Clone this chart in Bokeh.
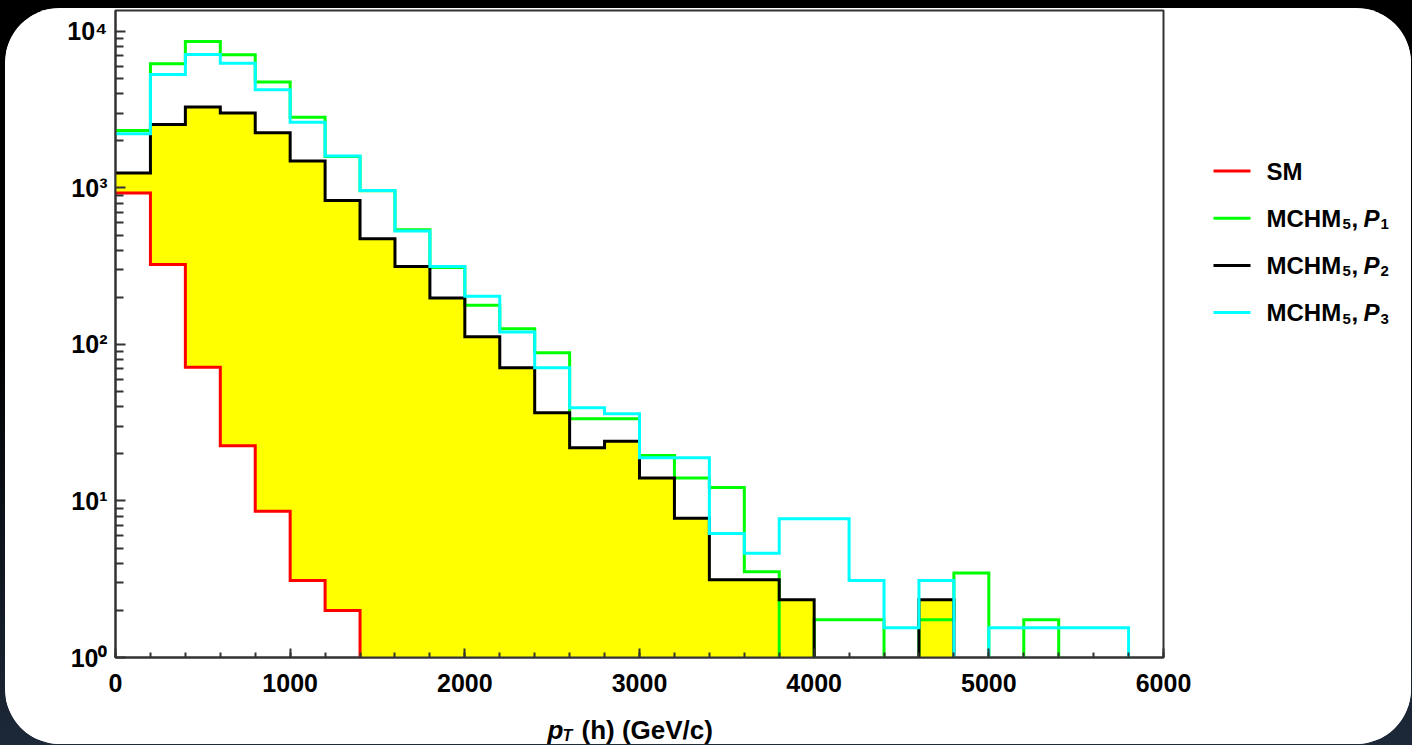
from bokeh.plotting import figure
from bokeh.layouts import row, column
from bokeh.models import Range1d, FixedTicker, GlobalInlineStyleSheet
from bokeh.core.properties import value
from bokeh.embed import file_html
from bokeh.resources import INLINE

# ---------------- data ----------------
bin_width = 200
bin_left = [0, 200, 400, 600, 800, 1000, 1200, 1400, 1600, 1800,
            2000, 2200, 2400, 2600, 2800, 3000, 3200, 3400, 3600, 3800,
            4000, 4200, 4400, 4600, 4800, 5000, 5200, 5400, 5600]

sm = [927, 324, 71.6, 22.5, 8.6, 3.1, 2.0, 0, 0, 0,
      0, 0, 0, 0, 0, 0, 0, 0, 0, 0,
      0, 0, 0, 0, 0, 0, 0, 0, 0]
mchm_p1 = [2330, 6210, 8630, 7100, 4745, 2833, 1590, 960, 540, 310,
           178, 126, 88.5, 33.5, 33.5, 19.5, 14.0, 12.2, 3.53, 0,
           1.74, 1.74, 0, 1.74, 3.46, 0, 1.74, 0, 0]
mchm_p2 = [1244, 2546, 3283, 3006, 2253, 1484, 832, 473, 315, 198,
           112, 71, 36.6, 21.9, 24.1, 14.0, 7.76, 3.14, 3.14, 2.34,
           0, 0, 0, 2.34, 0, 0, 0, 0, 0]
mchm_p3 = [2220, 5310, 7130, 6270, 4240, 2632, 1597, 964, 530, 315,
           203, 120, 71, 39.4, 36.1, 18.9, 18.9, 6.2, 4.64, 7.7,
           7.7, 3.1, 1.55, 3.1, 0, 1.55, 1.55, 1.55, 1.55]

series_colors = ["#ff0000", "#00ff00", "#000000", "#00ffff"]
legend_main = ["SM", "MCHM", "MCHM", "MCHM"]
legend_sub1 = ["", "5", "5", "5"]
legend_param = ["", "P", "P", "P"]
legend_sub2 = ["", "1", "2", "3"]

x_ticks = [0, 1000, 2000, 3000, 4000, 5000, 6000]
x_tick_labels = ["0", "1000", "2000", "3000", "4000", "5000", "6000"]
y_ticks = [1, 10, 100, 1000, 10000]
y_tick_labels = ["10\u2070", "10\u00b9", "10\u00b2", "10\u00b3", "10\u2074"]

FLOOR = 0.3  # below the axis minimum: empty bins fall off the frame
FONT = "Liberation Sans"
EDGE = "#333333"

css = """
html {
  min-height: 100%;
  background: linear-gradient(180deg, #000 0%, #000 45%, #1d2839 100%);
}
"""

TOTAL_W, TOTAL_H = 1406, 736
MAIN_W, MAIN_H = 1200, 700
B_LEFT, B_RIGHT, B_TOP, B_BOTTOM = 110, 42, 2, 51
FRAME_H = MAIN_H - B_TOP - B_BOTTOM
LAB_H = TOTAL_H - MAIN_H
LEG_W = TOTAL_W - MAIN_W

# ---------------- main plot ----------------
p = figure(width=MAIN_W, height=MAIN_H, title=None,
           x_range=Range1d(0, 6000), y_range=Range1d(1, 13600),
           y_axis_type="log", output_backend="svg", toolbar_location=None,
           min_border_left=B_LEFT, min_border_right=B_RIGHT,
           min_border_top=B_TOP, min_border_bottom=B_BOTTOM)
p.background_fill_color = "white"
p.border_fill_color = "white"
p.outline_line_color = EDGE
p.outline_line_width = 2
p.xgrid.visible = False
p.ygrid.visible = False

# yellow band between SM and P2, one polygon
tops = [max(v, FLOOR) for v in mchm_p2]
bots = [min(max(s, FLOOR), t) for s, t in zip(sm, tops)]
band_x, band_y = [], []
for left, t in zip(bin_left, tops):
    band_x += [left, left + bin_width]
    band_y += [t, t]
for left, b in zip(reversed(bin_left), reversed(bots)):
    band_x += [left + bin_width, left]
    band_y += [b, b]
p.patch(band_x, band_y, fill_color="#ffff00", line_color=None)


def step_xy(values):
    xs, ys = [], []
    for left, v in zip(bin_left, values):
        vv = v if v > 0 else FLOOR
        xs += [left, left + bin_width]
        ys += [vv, vv]
    xs.append(bin_left[-1] + bin_width)
    ys.append(FLOOR)
    return xs, ys


for vals, col in zip([sm, mchm_p1, mchm_p2, mchm_p3], series_colors):
    xs, ys = step_xy(vals)
    p.line(xs, ys, line_color=col, line_width=3, line_join="miter")

xa = p.xaxis[0]
xa.ticker = FixedTicker(ticks=x_ticks, minor_ticks=list(range(0, 6001, bin_width)))
xa.major_label_overrides = {t: l for t, l in zip(x_ticks, x_tick_labels)}
ya = p.yaxis[0]
minor = []
for t in y_ticks[:-1]:
    minor += [m * t for m in range(2, 10)]
ya.ticker = FixedTicker(ticks=y_ticks, minor_ticks=minor)
ya.major_label_overrides = {t: l for t, l in zip(y_ticks, y_tick_labels)}

for ax in (xa, ya):
    ax.axis_line_color = EDGE
    ax.axis_line_width = 2
    ax.major_tick_line_color = EDGE
    ax.minor_tick_line_color = EDGE
    ax.major_tick_line_width = 2
    ax.minor_tick_line_width = 2
    ax.major_tick_out = 0
    ax.minor_tick_out = 0
    ax.major_label_text_font = FONT
    ax.major_label_text_font_style = "bold"
    ax.major_label_text_font_size = "25px"
    ax.major_label_text_color = "black"

xa.major_tick_in = 9
xa.minor_tick_in = 5
xa.major_label_standoff = 16
ya.major_tick_in = 10
ya.minor_tick_in = 8
ya.major_label_standoff = 8

# ---------------- legend panel (right, frame aligned with main) ----------------
leg = figure(width=LEG_W, height=MAIN_H, title=None,
             x_range=Range1d(0, LEG_W), y_range=Range1d(FRAME_H, 0),
             x_axis_type=None, y_axis_type=None, output_backend="svg",
             toolbar_location=None, min_border_left=0, min_border_right=0,
             min_border_top=B_TOP, min_border_bottom=B_BOTTOM)
leg.outline_line_color = None
leg.background_fill_color = "white"
leg.border_fill_color = "white"

row_y0, row_pitch = 160.5, 47.2
glyph_x0, glyph_x1 = 8, 45
txt_x = 61
rows_y = [row_y0 + i * row_pitch for i in range(len(series_colors))]
leg.segment(x0=[glyph_x0] * 4, x1=[glyph_x1] * 4, y0=rows_y, y1=rows_y,
            line_color=series_colors, line_width=3)


def leg_text(xs, ys, texts, style, size):
    leg.text(x=xs, y=ys, text=texts, text_font=value(FONT),
             text_font_style=style, text_font_size=size,
             text_baseline="middle", text_align="left", text_color="black")


subc = [y + 6 for y in rows_y]
leg_text([txt_x] * 4, rows_y, legend_main, "bold", "24px")
leg_text([txt_x + 76] * 3, subc[1:], legend_sub1[1:], "bold", "15px")
leg_text([txt_x + 85] * 3, rows_y[1:], [","] * 3, "bold", "24px")
leg_text([txt_x + 97] * 3, rows_y[1:], legend_param[1:], "bold italic", "24px")
leg_text([txt_x + 114] * 3, subc[1:], legend_sub2[1:], "bold", "15px")

# ---------------- x-axis title (below) ----------------
lab = figure(width=TOTAL_W, height=LAB_H, title=None,
             x_range=Range1d(0, TOTAL_W), y_range=Range1d(LAB_H, 0),
             x_axis_type=None, y_axis_type=None, output_backend="svg",
             toolbar_location=None, min_border=0)
lab.outline_line_color = None
lab.background_fill_color = "white"
lab.border_fill_color = "white"
for tx, ty, tt, st, sz in [(542, 21, "p", "bold italic", "26px"),
                           (557, 27, "T", "bold italic", "16px"),
                           (576, 21, "(h) (GeV/c)", "bold", "26px")]:
    lab.text(x=[tx], y=[ty], text=[tt], text_font=value(FONT),
             text_font_style=st, text_font_size=sz,
             text_baseline="middle", text_align="left", text_color="black")

layout = column(row(p, leg, spacing=0), lab, spacing=0)
layout.stylesheets = [GlobalInlineStyleSheet(css=css)]
layout.styles = {"margin-left": "5px", "margin-top": "8px",
                 "border-radius": "55px", "overflow": "hidden",
                 "background": "white"}

open("out.html", "w").write(file_html(layout, INLINE))
